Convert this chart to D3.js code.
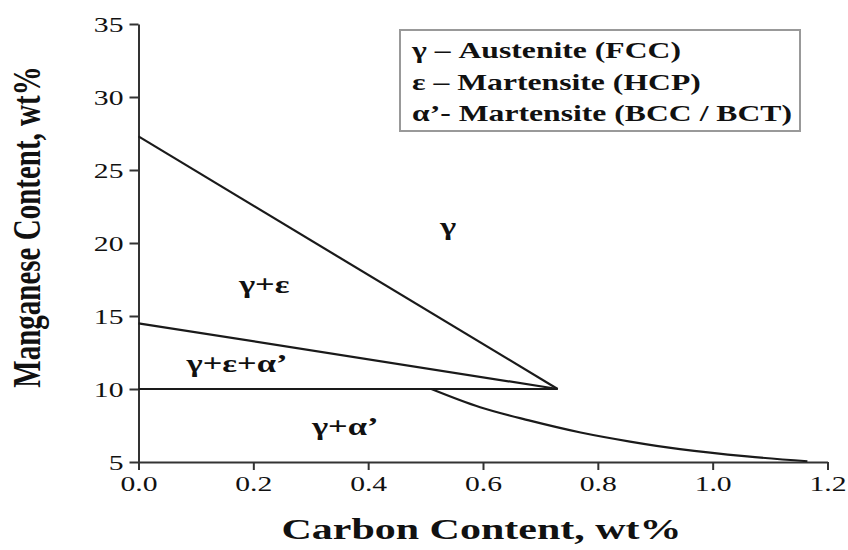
<!DOCTYPE html>
<html>
<head>
<meta charset="utf-8">
<script src="https://cdn.jsdelivr.net/npm/d3@7"></script>
<style>
  html, body { margin: 0; padding: 0; background: #fff; }
  svg { display: block; }
  text { font-family: "Liberation Serif", "Times New Roman", serif; fill: #111; }
</style>
</head>
<body>
<svg id="chart" width="848" height="550"></svg>
<script>
// Phase boundaries of Fe–Mn–C steels (carbon wt% vs manganese wt%)
const gammaBoundary   = [[0, 27.3], [0.73, 10]];
const epsilonBoundary = [[0, 14.5], [0.73, 10]];
const alphaLine       = [[0, 10], [0.73, 10]];
const alphaCurve      = [[0.51, 10], [0.595, 8.75], [0.68, 7.85], [0.77, 7.02], [0.856, 6.4],
                         [0.943, 5.88], [1.06, 5.38], [1.165, 5.05]];

// Phase-field labels: [text, carbon, manganese]
const regionLabels = [
  ["γ", 0.539, 20.55],
  ["γ+ε", 0.219, 16.58],
  ["γ+ε+α’", 0.1715, 11.18],
  ["γ+α’", 0.36, 6.85]
];

const legendLines = [
  "γ – Austenite (FCC)",
  "ε – Martensite (HCP)",
  "α’- Martensite (BCC / BCT)"
];

const xTicks = [0, 0.2, 0.4, 0.6, 0.8, 1.0, 1.2];
const yTicks = [5, 10, 15, 20, 25, 30, 35];

const SX = 1.38; // horizontal stretch applied to lettering

const svg = d3.select("#chart");
const x = d3.scaleLinear().domain([0, 1.2]).range([138.5, 827.5]);
const y = d3.scaleLinear().domain([5, 35]).range([462, 24]);

// Axes
const xAxis = svg.append("g")
  .attr("transform", `translate(0,${y(5)})`)
  .call(d3.axisBottom(x).tickValues(xTicks).tickFormat(d3.format(".1f")).tickSize(8).tickSizeOuter(0));
const yAxis = svg.append("g")
  .attr("transform", `translate(${x(0)},0)`)
  .call(d3.axisLeft(y).tickValues(yTicks).tickSize(9).tickSizeOuter(0));

[xAxis, yAxis].forEach(g => {
  g.select(".domain").attr("stroke", "#333").attr("stroke-width", 2);
  g.selectAll(".tick line").attr("stroke", "#333").attr("stroke-width", 2);
  g.selectAll(".tick text")
    .attr("font-family", "'Liberation Serif', 'Times New Roman', serif")
    .attr("font-size", 21.5)
    .attr("fill", "#222");
});
xAxis.selectAll(".tick text").attr("y", 14).attr("dy", "0.71em")
  .attr("transform", `scale(${SX},1)`);
yAxis.selectAll(".tick text").attr("x", -15 / SX).attr("dy", "0.34em")
  .attr("transform", `scale(${SX},1)`);

// Boundary lines
const line = d3.line().x(d => x(d[0])).y(d => y(d[1]));
const curved = d3.line().x(d => x(d[0])).y(d => y(d[1])).curve(d3.curveCatmullRom.alpha(0.5));
[gammaBoundary, epsilonBoundary, alphaLine].forEach(pts => {
  svg.append("path").attr("d", line(pts))
    .attr("fill", "none").attr("stroke", "#1a1a1a").attr("stroke-width", 2.2);
});
svg.append("path").attr("d", curved(alphaCurve))
  .attr("fill", "none").attr("stroke", "#1a1a1a").attr("stroke-width", 2.2);

// Stretched text helper
function label(px, py, str, size, anchor, sx, extra) {
  return svg.append("text")
    .attr("transform", `translate(${px},${py}) scale(${sx},1)` + (extra || ""))
    .attr("text-anchor", anchor)
    .attr("font-size", size)
    .attr("font-weight", "bold")
    .text(str);
}

regionLabels.forEach(([t, cx, my]) => label(x(cx), y(my), t, 25, "middle", SX));

// Legend box
svg.append("rect")
  .attr("x", 400).attr("y", 30).attr("width", 400).attr("height", 101)
  .attr("fill", "#fff").attr("stroke", "#999").attr("stroke-width", 2);
legendLines.forEach((t, i) => label(412, 58 + i * 31.5, t, 24, "start", 1.32));

// Axis titles
label(481.5, 539, "Carbon Content, wt%", 30, "middle", 1.4);
label(40, 227, "Manganese Content, wt%", 29, "middle", SX, " rotate(-90)");
</script>
</body>
</html>
